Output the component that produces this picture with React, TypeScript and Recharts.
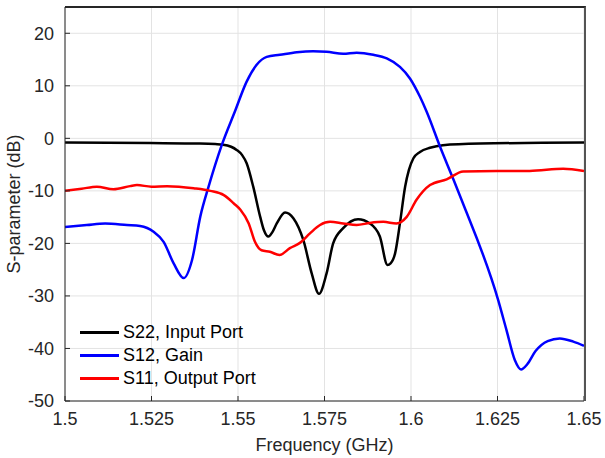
import React from 'react'
import { LineChart, Line, XAxis, YAxis, CartesianGrid } from 'recharts'

// S22, Input Port
const s22Freq = [1.5, 1.5246, 1.539, 1.5434, 1.5457, 1.548, 1.5496, 1.5512, 1.5525, 1.5544, 1.5564, 1.5575, 1.5588, 1.5599, 1.5612, 1.5636, 1.566, 1.5689, 1.5713, 1.5734, 1.5756, 1.5775, 1.5804, 1.5847, 1.5881, 1.591, 1.5932, 1.5941, 1.5954, 1.5968, 1.5983, 1.5994, 1.6007, 1.6026, 1.6055, 1.6092, 1.62, 1.65]
const s22Db = [-0.8, -0.9, -1.0, -1.1, -1.2, -1.6, -2.2, -3.2, -4.75, -9.2, -14.9, -17.5, -18.7, -17.9, -16.2, -14.1, -15.2, -19.4, -25.7, -29.6, -25.7, -20, -17.1, -15.4, -16.2, -18.7, -24.1, -23.8, -21.9, -16.2, -9.2, -6, -3.8, -2.6, -1.8, -1.3, -1.0, -0.8]

// S12, Gain
const s12Freq = [1.5, 1.5063, 1.5116, 1.5179, 1.5217, 1.5256, 1.5285, 1.5314, 1.5343, 1.5367, 1.5391, 1.5415, 1.5453, 1.5491, 1.5525, 1.5554, 1.5583, 1.5621, 1.567, 1.5717, 1.5756, 1.5804, 1.5843, 1.5891, 1.593, 1.5968, 1.5997, 1.6026, 1.6045, 1.6084, 1.6123, 1.6146, 1.6252, 1.6276, 1.63, 1.6318, 1.6336, 1.636, 1.6395, 1.643, 1.6469, 1.65]
const s12Db = [-16.9, -16.5, -16.2, -16.5, -16.7, -17.8, -19.7, -23.8, -26.6, -23.2, -14.9, -9.2, -1.3, 5.1, 10.8, 14.0, 15.5, 15.9, 16.4, 16.6, 16.5, 16.1, 16.3, 15.9, 15.2, 13.6, 11.4, 7.9, 5.1, -1.6, -7.9, -11.7, -30.8, -36.5, -42.2, -44, -43.0, -40.5, -38.6, -38.1, -38.7, -39.5]

// S11, Output Port
const s11Freq = [1.5, 1.5048, 1.5092, 1.514, 1.5188, 1.5208, 1.525, 1.5295, 1.5372, 1.542, 1.5459, 1.5488, 1.5507, 1.5531, 1.5549, 1.5568, 1.5592, 1.562, 1.565, 1.5679, 1.5708, 1.5737, 1.5766, 1.5804, 1.5843, 1.5881, 1.592, 1.5958, 1.5987, 1.6016, 1.6055, 1.6103, 1.6151, 1.6247, 1.6343, 1.644, 1.65]
const s11Db = [-10.0, -9.6, -9.2, -9.7, -9.1, -8.9, -9.2, -9.1, -9.5, -10, -10.8, -12.4, -13.6, -16.2, -19.7, -21.3, -21.6, -22.2, -20.9, -19.9, -18.1, -16.5, -15.9, -16.2, -16.5, -16.1, -15.9, -16.2, -15.0, -11.7, -8.9, -7.8, -6.3, -6.2, -6.2, -5.8, -6.2]

const xTicks = [1.5, 1.525, 1.55, 1.575, 1.6, 1.625, 1.65]
const yTicks = [-50, -40, -30, -20, -10, 0, 10, 20]

const series = [
  { name: 'S22, Input Port', color: '#000000', data: s22Freq.map((f, i) => ({ f, v: s22Db[i] })) },
  { name: 'S12, Gain', color: '#0000ff', data: s12Freq.map((f, i) => ({ f, v: s12Db[i] })) },
  { name: 'S11, Output Port', color: '#ff0000', data: s11Freq.map((f, i) => ({ f, v: s11Db[i] })) },
]

const FONT = '"Liberation Sans", Arial, sans-serif'
const TXT = '#262626'

export default function App() {
  const tick = { fontSize: 18, fill: TXT, fontFamily: FONT }
  return (
    <div style={{ position: 'absolute', left: 0, top: 0, width: 605, height: 458, background: '#fff' }}>
      <LineChart width={605} height={458} margin={{ top: 7, right: 21, left: 0, bottom: 0 }}>
        <CartesianGrid xAxisId="b" yAxisId="l" stroke="#e3e3e3" strokeWidth={1} />
        <XAxis
          xAxisId="b" dataKey="f" type="number" domain={[1.5, 1.65]} ticks={xTicks}
          allowDataOverflow height={57} tick={tick} tickSize={-5} tickMargin={16}
          stroke={TXT} tickLine={{ stroke: TXT }}
          label={{ value: 'Frequency (GHz)', position: 'insideBottom', offset: 7, style: { fontSize: 18, fill: TXT, fontFamily: FONT } }}
        />
        <YAxis
          yAxisId="l" type="number" domain={[-50, 25]} ticks={yTicks} width={65}
          tick={tick} tickSize={-5} tickMargin={16} stroke={TXT} tickLine={{ stroke: TXT }}
          label={{ value: 'S-parameter (dB)', angle: -90, position: 'insideLeft', offset: 14, style: { textAnchor: 'middle', fontSize: 18, fill: TXT, fontFamily: FONT } }}
        />
        {series.map(s => (
          <Line
            key={s.name} xAxisId="b" yAxisId="l" data={s.data} dataKey="v" name={s.name}
            type="monotone" stroke={s.color} strokeWidth={2.5} dot={false} isAnimationActive={false}
          />
        ))}
      </LineChart>
      {/* top and right edges of the axes box */}
      <div style={{
        position: 'absolute', left: 65, top: 6, width: 521, height: 395, boxSizing: 'border-box',
        borderTop: `2px solid ${TXT}`, borderRight: '2px solid #555', pointerEvents: 'none', zIndex: 2,
      }} />
      <div style={{ position: 'absolute', left: 80, top: 321, fontFamily: FONT, fontSize: 18, color: '#000', zIndex: 2 }}>
        {series.map(s => (
          <div key={s.name} style={{ display: 'flex', alignItems: 'center', height: 23 }}>
            <div style={{ width: 39, height: 3, background: s.color, marginRight: 4 }} />
            <span>{s.name}</span>
          </div>
        ))}
      </div>
    </div>
  )
}
